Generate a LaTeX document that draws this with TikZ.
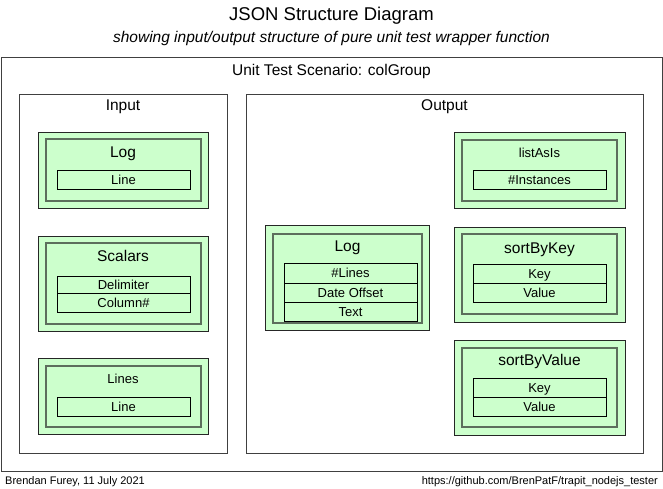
\documentclass[tikz,border=0pt]{standalone}
\usepackage{fontspec}
\setmainfont{Liberation Sans}
\definecolor{jsgreen}{RGB}{204,255,204}
\definecolor{jsedge}{RGB}{92,110,92}
\begin{document}
\begin{tikzpicture}[x=1pt, y=-1pt,
  every node/.style={inner sep=0pt, text depth=0pt},
  frame/.style={draw=black!75, line width=0.8pt},
  grp/.style={draw=black!85, fill=jsgreen, line width=0.8pt},
  grpin/.style={draw=jsedge, line width=1.8pt},
  fld/.style={draw=black, line width=0.9pt},
  hd/.style={font=\fontsize{18.5}{22}\selectfont, text height=13.2pt},
  sub/.style={font=\fontsize{15.5}{18}\selectfont\itshape, text height=11.1pt},
  big/.style={font=\fontsize{15.5}{18}\selectfont, text height=11.1pt},
  sml/.style={font=\fontsize{13}{15}\selectfont, text height=9.3pt},
  foot/.style={font=\fontsize{11}{13}\selectfont, text height=7.9pt}]
  \useasboundingbox (0,0) rectangle (663,489);

  \node[hd] (title) at (331.5,14) {JSON Structure Diagram};
  \node[sub] (subtitle) at (331.5,37) {showing input/output structure of pure unit test wrapper function};

  \draw[frame] (1,57) rectangle (662,471); \node[big] (scen) at (331.5,70) {Unit Test Scenario: colGroup};
  \draw[frame] (19,94) rectangle (227,453); \node[big] (input) at (123,105) {Input};
  \draw[frame] (246,94) rectangle (643,453); \node[big] (output) at (444.5,105) {Output};

  % input groups
  \draw[grp] (38,132) rectangle (208,208); \draw[grpin] (46,139) rectangle (201,201);
  \node[big] (inLog) at (123,152) {Log};
  \draw[fld] (57,170) rectangle (190,189); \node[sml] (inLogLine) at (123.5,179.5) {Line};

  \draw[grp] (38,236) rectangle (208,331); \draw[grpin] (46,243) rectangle (201,324);
  \node[big] (scalars) at (123,256) {Scalars};
  \draw[fld] (57,276) rectangle (190,293); \node[sml] (delim) at (123.5,284.5) {Delimiter};
  \draw[fld] (57,293) rectangle (190,312); \node[sml] (colno) at (123.5,302.5) {Column\#};

  \draw[grp] (38,358) rectangle (208,434); \draw[grpin] (46,366) rectangle (201,427);
  \node[sml] (lines) at (123,379) {Lines};
  \draw[fld] (57,397) rectangle (190,416); \node[sml] (linesLine) at (123.5,406.5) {Line};

  % output groups
  \draw[grp] (265,225) rectangle (429,330); \draw[grpin] (273,234) rectangle (422,323);
  \node[big] (outLog) at (347.5,246) {Log};
  \draw[fld] (284,263) rectangle (417,283); \node[sml] (nLines) at (350.5,273) {\#Lines};
  \draw[fld] (284,283) rectangle (417,302); \node[sml] (dateOff) at (350.5,292.5) {Date Offset};
  \draw[fld] (284,302) rectangle (417,321); \node[sml] (text) at (350.5,311.5) {Text};

  \draw[grp] (454,132) rectangle (625,208); \draw[grpin] (462,140) rectangle (617,201);
  \node[sml] (listAsIs) at (539.5,153) {listAsIs};
  \draw[fld] (473,170) rectangle (606,189); \node[sml] (nInst) at (539.5,179.5) {\#Instances};

  \draw[grp] (454,227) rectangle (625,322); \draw[grpin] (462,234) rectangle (617,314);
  \node[big] (byKey) at (539.5,248) {sortByKey};
  \draw[fld] (473,264) rectangle (606,283); \node[sml] (byKeyKey) at (539.5,273.5) {Key};
  \draw[fld] (473,283) rectangle (606,302); \node[sml] (byKeyVal) at (539.5,292.5) {Value};

  \draw[grp] (454,340) rectangle (625,435); \draw[grpin] (462,348) rectangle (617,427);
  \node[big] (byVal) at (539.5,360) {sortByValue};
  \draw[fld] (473,378) rectangle (606,397); \node[sml] (byValKey) at (539.5,387.5) {Key};
  \draw[fld] (473,397) rectangle (606,416); \node[sml] (byValVal) at (539.5,406.5) {Value};

  \node[foot, anchor=west] (author) at (5,481) {Brendan Furey, 11 July 2021};
  \node[foot, anchor=east] (url) at (658,481) {https://github.com/BrenPatF/trapit\_nodejs\_tester};
\end{tikzpicture}
\end{document}
